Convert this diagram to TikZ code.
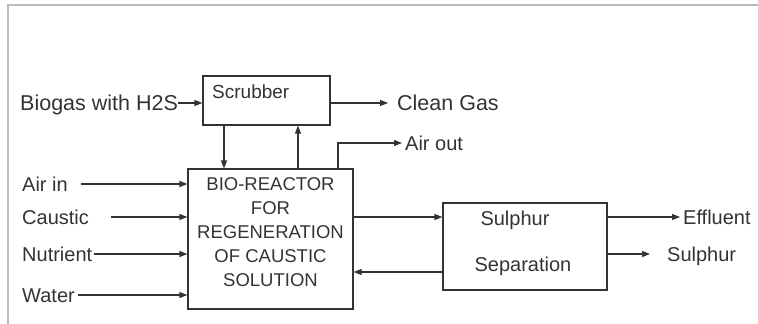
\documentclass[tikz,border=0pt]{standalone}
\usepackage{fontspec}
\setmainfont{Liberation Sans}
\usetikzlibrary{arrows.meta}
\definecolor{ink}{HTML}{333333}
\definecolor{frame}{HTML}{BBBBBB}
\tikzset{
  lbl/.style={inner sep=0pt, anchor=west, text=ink, font=\fontsize{20}{24}\selectfont, text height=14pt, text depth=0pt},
  biglbl/.style={lbl, font=\fontsize{21.5}{26}\selectfont, text height=15.5pt},
  boxnode/.style={draw=ink, line width=1.1pt, inner sep=0pt},
  arr/.style={draw=ink, line width=1.1pt, -{Triangle[length=8pt,width=6pt]}},
}
\begin{document}
\begin{tikzpicture}[x=1pt,y=-1pt]
\useasboundingbox (0,0) rectangle (758,324);
\draw[frame, line width=1.5pt] (8,324) -- (8,5) -- (758,5);

% boxes
\node[boxnode, minimum width=127pt, minimum height=49pt] (scrub) at (266.5,100.5) {};
\node[boxnode, minimum width=165pt, minimum height=140pt] (bio) at (270.5,239) {};
\node[boxnode, minimum width=164pt, minimum height=87pt] (sep) at (525,246.5) {};

% box texts
\node[lbl, font=\fontsize{19}{23}\selectfont, text height=13.5pt] (scrubt) at (212,92) {Scrubber};
\node[inner sep=0pt, text=ink, align=center, font=\fontsize{18.5}{24}\selectfont] (biot) at (270.5,232) {BIO-REACTOR\\FOR\\REGENERATION\\OF CAUSTIC\\SOLUTION};
\node[lbl, anchor=center] (sept1) at (515,218) {Sulphur};
\node[lbl, anchor=center] (sept2) at (523,264) {Separation};

% labels
\node[biglbl] (biogas) at (20,103) {Biogas with H2S};
\node[biglbl] (clean) at (397,103) {Clean Gas};
\node[lbl] (airout) at (405,143) {Air out};
\node[lbl] (airin) at (22,184) {Air in};
\node[lbl] (caustic) at (22,217) {Caustic};
\node[lbl] (nutrient) at (22,254) {Nutrient};
\node[lbl] (water) at (22,295) {Water};
\node[lbl] (effl) at (683,217) {Effluent};
\node[lbl] (sulph) at (667,254) {Sulphur};

% helper coordinates
\coordinate (xdown) at (224,0);
\coordinate (xup) at (298,0);
\coordinate (xair) at (338,0);
\coordinate (yfwd) at (0,217);
\coordinate (yret) at (0,272);
\coordinate (ysul) at (0,254);

% connectors
\draw[arr] (biogas.east) -- (biogas.east -| scrub.west);
\draw[arr] (scrub.east |- clean.west) -- ([xshift=-9pt]clean.west);
\draw[arr] (xdown |- scrub.south) -- (xdown |- bio.north);
\draw[arr] (xup |- bio.north) -- (xup |- scrub.south);
\draw[arr] (xair |- bio.north) |- ([xshift=-3pt]airout.west);
\draw[arr] ([xshift=13pt]airin.east) -- (airin.east -| bio.west);
\draw[arr] ([xshift=22pt]caustic.east) -- (caustic.east -| bio.west);
\draw[arr] ([xshift=2pt]nutrient.east) -- (nutrient.east -| bio.west);
\draw[arr] ([xshift=3pt]water.east) -- (water.east -| bio.west);
\draw[arr] (bio.east |- yfwd) -- (sep.west |- yfwd);
\draw[arr] (sep.west |- yret) -- (bio.east |- yret);
\draw[arr] (sep.east |- effl.west) -- ([xshift=-3pt]effl.west);
\draw[arr] (sep.east |- sulph.west) -- ([xshift=-17pt]sulph.west);
\end{tikzpicture}
\end{document}
